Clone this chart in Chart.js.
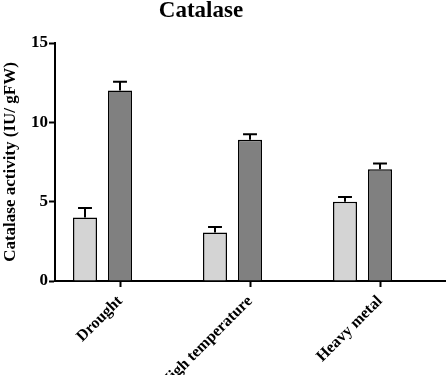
<!DOCTYPE html>
<html><head><meta charset="utf-8">
<script src="https://cdn.jsdelivr.net/npm/chart.js@4/dist/chart.umd.min.js"></script>
<style>html,body{margin:0;padding:0;background:#fff;}#wrap{width:447px;height:375px;}</style>
</head><body><div id="wrap"><canvas id="c" width="447" height="375"></canvas></div>
<script>
const categories = ["Drought", "High temperature", "Heavy metal"];
const controlValues = [4.0, 3.05, 5.0];
const controlErrors = [0.6, 0.35, 0.3];
const stressValues = [12.0, 8.9, 7.05];
const stressErrors = [0.55, 0.35, 0.35];
const yTicks = [0, 5, 10, 15];
const chartTitle = "Catalase";
const yTitle = "Catalase activity (IU/ gFW)";

const serif = '"Liberation Serif","Times New Roman",serif';

const errorBars = {
  id: 'errorBars',
  afterDatasetsDraw(chart) {
    const ctx = chart.ctx;
    const y = chart.scales.y;
    chart.data.datasets.forEach((ds, i) => {
      if (!ds.errors) return;
      const meta = chart.getDatasetMeta(i);
      meta.data.forEach((bar, j) => {
        const v = ds.data[j], e = ds.errors[j];
        if (v == null) return;
        const yTop = y.getPixelForValue(v + e);
        const yVal = y.getPixelForValue(v);
        const half = bar.width * 0.29;
        ctx.save();
        ctx.strokeStyle = '#000';
        ctx.lineWidth = 2;
        ctx.beginPath();
        ctx.moveTo(bar.x, yVal);
        ctx.lineTo(bar.x, yTop);
        ctx.moveTo(bar.x - half, yTop);
        ctx.lineTo(bar.x + half, yTop);
        ctx.stroke();
        ctx.restore();
      });
    });
  }
};

const titlePlugin = {
  id: 'titleText',
  afterDraw(chart) {
    const ctx = chart.ctx;
    ctx.save();
    ctx.font = 'bold 23px ' + serif;
    ctx.fillStyle = '#000';
    ctx.textAlign = 'center';
    ctx.textBaseline = 'alphabetic';
    ctx.fillText(chartTitle, 201, 17);
    ctx.restore();
  }
};

new Chart(document.getElementById('c'), {
  type: 'bar',
  data: {
    labels: categories,
    datasets: [
      { data: controlValues, errors: controlErrors, backgroundColor: '#d4d4d4', borderColor: '#000', borderWidth: 1.5 },
      { data: stressValues, errors: stressErrors, backgroundColor: '#808080', borderColor: '#000', borderWidth: 1.5 },
      { data: [null, null, null], backgroundColor: '#fff' }
    ]
  },
  options: {
    responsive: false,
    animation: false,
    devicePixelRatio: 1,
    categoryPercentage: 0.8077,
    barPercentage: 0.686,
    layout: { padding: { top: 43, right: 2, left: 0, bottom: 0 } },
    plugins: { legend: { display: false }, tooltip: { enabled: false }, title: { display: false } },
    scales: {
      x: {
        grid: { display: true, drawOnChartArea: false, drawTicks: true, tickLength: 6, tickWidth: 2, tickColor: '#000', offset: false },
        border: { display: true, color: '#000', width: 2 },
        ticks: { color: '#000', font: { family: serif, weight: 'bold', size: 16 }, maxRotation: 45, minRotation: 45, padding: 5, autoSkip: false },
        afterFit(s) { s.height = 94; }
      },
      y: {
        min: 0, max: 15,
        afterBuildTicks(s) { s.ticks = yTicks.map(v => ({ value: v })); },
        grid: { display: true, drawOnChartArea: false, drawTicks: true, tickLength: 6, tickWidth: 2, tickColor: '#000' },
        border: { display: true, color: '#000', width: 2 },
        ticks: { color: '#000', font: { family: serif, weight: 'bold', size: 17 }, padding: 1 },
        title: { display: true, text: yTitle, color: '#000', font: { family: serif, weight: 'bold', size: 17 }, padding: { top: 0, bottom: 0 } },
        afterFit(s) { s.width = 55; }
      }
    }
  },
  plugins: [errorBars, titlePlugin]
});
</script>
</body></html>
